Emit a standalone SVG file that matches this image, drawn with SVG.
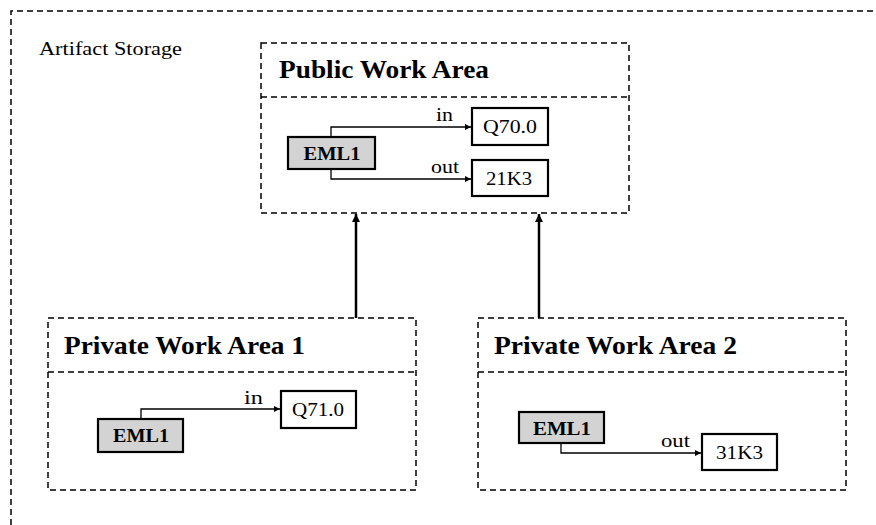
<svg xmlns="http://www.w3.org/2000/svg" width="876" height="525" viewBox="0 0 876 525">
  <style>
    .area { fill: none; stroke: #000; stroke-width: 1.5; stroke-dasharray: 6 4; }
    .title { font-family: "Liberation Serif", "DejaVu Serif", serif; font-size: 26px; font-weight: bold; fill: #000; }
    .store { font-family: "Liberation Serif", "DejaVu Serif", serif; font-size: 18px; fill: #000; }
    .box { fill: #fff; stroke: #000; stroke-width: 2.2; }
    .eml { fill: #d3d3d3; stroke: #000; stroke-width: 2.2; }
    .lbl { font-family: "Liberation Serif", "DejaVu Serif", serif; font-size: 18px; fill: #000; text-anchor: middle; }
    .bold { font-weight: bold; }
    .edge { fill: none; stroke: #000; stroke-width: 1.3; marker-end: url(#tip); }
    .up { fill: none; stroke: #000; stroke-width: 2.5; marker-end: url(#tipBig); }
  </style>
  <defs>
    <marker id="tip" viewBox="0 0 10 10" refX="10" refY="5" markerWidth="6" markerHeight="6" markerUnits="userSpaceOnUse" orient="auto">
      <path d="M0,0 L10,5 L0,10 z" fill="#000"/>
    </marker>
    <marker id="tipBig" viewBox="0 0 10 10" refX="10" refY="5" markerWidth="9" markerHeight="8" markerUnits="userSpaceOnUse" orient="auto">
      <path d="M0,0 L10,5 L0,10 z" fill="#000"/>
    </marker>
  </defs>
  <rect width="876" height="525" fill="#fff"/>

  <!-- outer storage boundary (open to the right and bottom) -->
  <g id="artifact-storage">
    <path class="area" d="M11,525 L11,11 L876,11"/>
    <text class="store" x="39" y="55" textLength="143" lengthAdjust="spacingAndGlyphs">Artifact Storage</text>
  </g>

  <!-- public area -->
  <g id="public-work-area">
    <rect class="area" x="261" y="43" width="368" height="170"/>
    <line class="area" x1="261" y1="97" x2="629" y2="97"/>
    <text class="title" x="279" y="78" textLength="210" lengthAdjust="spacingAndGlyphs">Public Work Area</text>
  </g>
  <g id="pub-eml1">
    <rect class="eml" x="288" y="137" width="87" height="32"/>
    <text class="lbl bold" x="332" y="160" textLength="57" lengthAdjust="spacingAndGlyphs">EML1</text>
  </g>
  <g id="pub-q70">
    <rect class="box" x="472" y="108" width="76" height="37"/>
    <text class="lbl" x="510" y="133" textLength="54" lengthAdjust="spacingAndGlyphs">Q70.0</text>
  </g>
  <g id="pub-21k3">
    <rect class="box" x="472" y="160" width="76" height="36"/>
    <text class="lbl" x="509" y="185" textLength="46" lengthAdjust="spacingAndGlyphs">21K3</text>
  </g>

  <!-- private area 1 -->
  <g id="private-work-area-1">
    <rect class="area" x="48" y="318" width="368" height="172"/>
    <line class="area" x1="48" y1="372" x2="416" y2="372"/>
    <text class="title" x="64" y="354" textLength="241" lengthAdjust="spacingAndGlyphs">Private Work Area 1</text>
  </g>
  <g id="pv1-eml1">
    <rect class="eml" x="98" y="419" width="85" height="33"/>
    <text class="lbl bold" x="141" y="442" textLength="56" lengthAdjust="spacingAndGlyphs">EML1</text>
  </g>
  <g id="pv1-q71">
    <rect class="box" x="281" y="391" width="75" height="37"/>
    <text class="lbl" x="318" y="416" textLength="52" lengthAdjust="spacingAndGlyphs">Q71.0</text>
  </g>

  <!-- private area 2 -->
  <g id="private-work-area-2">
    <rect class="area" x="478" y="318" width="368" height="172"/>
    <line class="area" x1="478" y1="372" x2="846" y2="372"/>
    <text class="title" x="494" y="354" textLength="243" lengthAdjust="spacingAndGlyphs">Private Work Area 2</text>
  </g>
  <g id="pv2-eml1">
    <rect class="eml" x="519" y="412" width="85" height="31"/>
    <text class="lbl bold" x="562" y="435" textLength="58" lengthAdjust="spacingAndGlyphs">EML1</text>
  </g>
  <g id="pv2-31k3">
    <rect class="box" x="702" y="434" width="75" height="36"/>
    <text class="lbl" x="739.5" y="459" textLength="47" lengthAdjust="spacingAndGlyphs">31K3</text>
  </g>

  <g id="connectors">
    <path class="edge" d="M331,137 V127 H471"/>
    <text class="lbl" x="444.5" y="121" textLength="17" lengthAdjust="spacingAndGlyphs">in</text>
    <path class="edge" d="M331,169 V179 H471"/>
    <text class="lbl" x="445" y="173" textLength="28" lengthAdjust="spacingAndGlyphs">out</text>

    <path class="edge" d="M141,419 V409 H280"/>
    <text class="lbl" x="253.5" y="404" textLength="19" lengthAdjust="spacingAndGlyphs">in</text>

    <path class="edge" d="M561,443 V453 H701"/>
    <text class="lbl" x="675.5" y="447" textLength="29" lengthAdjust="spacingAndGlyphs">out</text>

    <path class="up" d="M356,318 V214"/>
    <path class="up" d="M539,318 V214"/>
  </g>
</svg>
